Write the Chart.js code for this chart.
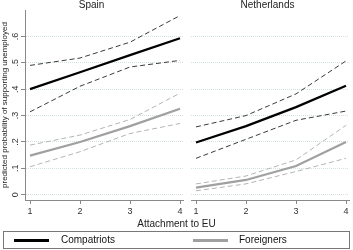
<!DOCTYPE html>
<html>
<head>
<meta charset="utf-8">
<script src="https://cdn.jsdelivr.net/npm/chart.js@4"></script>
<style>
  html, body { margin:0; padding:0; background:#fff; }
  body { width:353px; height:250px; position:relative; overflow:hidden; font-family:'Liberation Sans', Arial, sans-serif; }
  canvas { position:absolute; }
  #xtitle { position:absolute; left:0; width:353px; top:218px; text-align:center; font-size:10px; color:#222; }
  #legend { position:absolute; left:3px; top:231px; width:347px; height:18px; border:1px solid #777; box-sizing:border-box; font-size:10px; color:#111; }
  .sw { position:absolute; top:7px; height:2.5px; width:35px; }
  .lt { position:absolute; top:2px; }
</style>
</head>
<body>
<canvas id="left" width="186" height="222" style="left:0;top:-2px"></canvas>
<canvas id="right" width="167" height="222" style="left:186px;top:-2px"></canvas>
<div id="xtitle">Attachment to EU</div>
<div id="legend">
  <div class="sw" style="left:10px;background:#000"></div><div class="lt" style="left:57px">Compatriots</div>
  <div class="sw" style="left:189px;background:#a0a0a0"></div><div class="lt" style="left:235px">Foreigners</div>
</div>
<script>
const panels = ['Spain', 'Netherlands'];
const xVals = [1, 2, 3, 4];
const xTicks = [1, 2, 3, 4];
const yTicks = [0, 0.1, 0.2, 0.3, 0.4, 0.5, 0.6];
const yTitle = 'predicted probability of supporting unemployed';

const spainCompat     = [0.400, 0.464, 0.529, 0.593];
const spainCompatHi   = [0.490, 0.518, 0.578, 0.679];
const spainCompatLo   = [0.314, 0.411, 0.484, 0.509];
const spainForeign    = [0.148, 0.200, 0.260, 0.326];
const spainForeignHi  = [0.188, 0.226, 0.285, 0.385];
const spainForeignLo  = [0.106, 0.163, 0.232, 0.270];

const nlCompat     = [0.198, 0.260, 0.332, 0.413];
const nlCompatHi   = [0.257, 0.300, 0.382, 0.507];
const nlCompatLo   = [0.138, 0.210, 0.282, 0.317];
const nlForeign    = [0.027, 0.056, 0.109, 0.200];
const nlForeignHi  = [0.041, 0.071, 0.132, 0.263];
const nlForeignLo  = [0.015, 0.041, 0.088, 0.138];

const FONT = "'Liberation Sans', Arial, sans-serif";
const pts = arr => xVals.map((x, i) => ({x: x, y: arr[i]}));
function ds(arr, color, width, dash) {
  return { data: pts(arr), borderColor: color, borderWidth: width, borderDash: dash || [],
           pointRadius: 0, fill: false, tension: 0 };
}
function datasets(c, cHi, cLo, f, fHi, fLo) {
  return [
    ds(fHi, '#b4b4b4', 1, [5, 3]),
    ds(fLo, '#b4b4b4', 1, [5, 3]),
    ds(f, '#a0a0a0', 2.2),
    ds(cHi, '#3a3a3a', 1, [5, 3]),
    ds(cLo, '#3a3a3a', 1, [5, 3]),
    ds(c, '#000000', 2.2)
  ];
}
function makeChart(id, title, dsets, isLeft) {
  return new Chart(document.getElementById(id), {
    type: 'line',
    data: { datasets: dsets },
    options: {
      responsive: false, animation: false, devicePixelRatio: 1,
      layout: { padding: { left: 0, right: isLeft ? 3 : 4, top: 0, bottom: 0 } },
      plugins: {
        legend: { display: false }, tooltip: { enabled: false },
        title: { display: true, text: title, color: '#222', font: { family: FONT, size: 10, weight: 'normal' }, padding: { top: 1, bottom: -1 } }
      },
      scales: {
        x: {
          type: 'linear', min: 0.9, max: 4.06,
          afterBuildTicks: s => { s.ticks = xTicks.map(v => ({value: v})); },
          afterFit: s => { s.height = 20; },
          ticks: { color: '#333', font: { family: FONT, size: 9 }, padding: 2, maxRotation: 0, callback: v => String(v) },
          grid: { drawOnChartArea: false, drawTicks: true, tickLength: 4, tickColor: '#888', tickWidth: 1 },
          border: { display: true, color: '#888', width: 1 }
        },
        y: {
          min: -0.02, max: 0.7,
          afterBuildTicks: s => { s.ticks = yTicks.map(v => ({value: v})); },
          afterFit: s => { s.width = isLeft ? 25 : 5; },
          ticks: { display: isLeft, color: '#333', font: { family: FONT, size: 9 }, padding: 2, minRotation: 90, maxRotation: 90, crossAlign: 'center',
                   callback: v => { const r = Math.round(v * 10) / 10; return r === 0 ? '0' : String(r).replace(/^0/, ''); } },
          grid: { drawOnChartArea: true, drawTicks: isLeft, tickLength: 4, color: '#d3e0e4', lineWidth: 1, tickColor: '#888', tickBorderDash: [] },
          border: { display: isLeft, color: '#888', width: 1, dash: [1, 1] },
          title: { display: isLeft, text: yTitle, color: '#222', font: { family: FONT, size: 8 }, padding: { top: 0, bottom: 0 } }
        }
      }
    }
  });
}
makeChart('left', panels[0], datasets(spainCompat, spainCompatHi, spainCompatLo, spainForeign, spainForeignHi, spainForeignLo), true);
makeChart('right', panels[1], datasets(nlCompat, nlCompatHi, nlCompatLo, nlForeign, nlForeignHi, nlForeignLo), false);
</script>
</body>
</html>
